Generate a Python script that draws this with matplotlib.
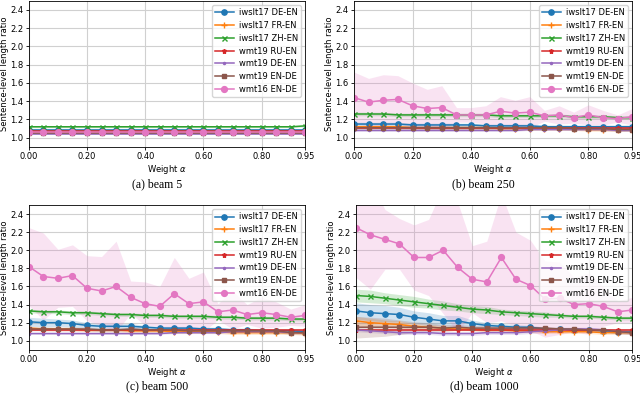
import numpy as np
import matplotlib
matplotlib.use("Agg")
import matplotlib.pyplot as plt

# tezine alpha
alpha = [0.00, 0.05, 0.10, 0.15, 0.20, 0.25, 0.30, 0.35, 0.40, 0.45,
         0.50, 0.55, 0.60, 0.65, 0.70, 0.75, 0.80, 0.85, 0.90, 0.95]
xticks = [0.00, 0.20, 0.40, 0.60, 0.80, 0.95]
yticks = [1.0, 1.2, 1.4, 1.6, 1.8, 2.0, 2.2, 2.4]

names = ["iwslt17 DE-EN", "iwslt17 FR-EN", "iwslt17 ZH-EN", "wmt19 RU-EN",
         "wmt19 DE-EN", "wmt19 EN-DE", "wmt16 EN-DE"]
markers = ["o", "+", "x", "*", ".", "s", "o"]
msizes = [3.8, 4.0, 3.6, 3.6, 3.0, 3.5, 4.2]

captions = ["(a) beam 5", "(b) beam 250", "(c) beam 500", "(d) beam 1000"]

# ---- beam 5 ----
de_en_5 = [1.09, 1.09, 1.09, 1.09, 1.09, 1.09, 1.09, 1.09, 1.09, 1.09, 1.09, 1.09, 1.09, 1.09, 1.09, 1.09, 1.09, 1.09, 1.09, 1.09]
fr_en_5 = [1.06, 1.06, 1.06, 1.06, 1.06, 1.06, 1.06, 1.06, 1.06, 1.06, 1.06, 1.06, 1.06, 1.06, 1.06, 1.06, 1.06, 1.06, 1.06, 1.06]
zh_en_5 = [1.12, 1.12, 1.12, 1.12, 1.12, 1.12, 1.12, 1.12, 1.12, 1.12, 1.12, 1.12, 1.12, 1.12, 1.12, 1.12, 1.12, 1.12, 1.12, 1.13]
ru_en_5 = [1.07, 1.07, 1.07, 1.07, 1.07, 1.07, 1.07, 1.07, 1.07, 1.07, 1.07, 1.07, 1.07, 1.07, 1.07, 1.07, 1.07, 1.07, 1.07, 1.07]
w19_de_en_5 = [1.04, 1.04, 1.04, 1.04, 1.04, 1.04, 1.04, 1.04, 1.04, 1.04, 1.04, 1.04, 1.04, 1.04, 1.04, 1.04, 1.04, 1.04, 1.04, 1.04]
w19_en_de_5 = [1.05, 1.05, 1.05, 1.05, 1.05, 1.05, 1.05, 1.05, 1.05, 1.05, 1.05, 1.05, 1.05, 1.05, 1.05, 1.05, 1.05, 1.05, 1.05, 1.05]
w16_en_de_5 = [1.06, 1.06, 1.06, 1.06, 1.06, 1.06, 1.06, 1.06, 1.06, 1.06, 1.06, 1.06, 1.06, 1.06, 1.06, 1.06, 1.06, 1.06, 1.06, 1.06]
std_5 = [0.01, 0.01, 0.01, 0.01, 0.01, 0.01, 0.01]

# ---- beam 250 ----
de_en_250 = [1.15, 1.15, 1.15, 1.15, 1.14, 1.14, 1.14, 1.14, 1.14, 1.13, 1.13, 1.13, 1.13, 1.12, 1.12, 1.12, 1.12, 1.12, 1.12, 1.12]
fr_en_250 = [1.12, 1.12, 1.12, 1.12, 1.11, 1.11, 1.11, 1.11, 1.11, 1.11, 1.10, 1.10, 1.10, 1.10, 1.10, 1.10, 1.09, 1.09, 1.09, 1.09]
zh_en_250 = [1.26, 1.26, 1.26, 1.25, 1.25, 1.25, 1.25, 1.25, 1.25, 1.25, 1.24, 1.24, 1.24, 1.24, 1.24, 1.23, 1.23, 1.23, 1.22, 1.22]
ru_en_250 = [1.11, 1.11, 1.11, 1.11, 1.11, 1.11, 1.11, 1.11, 1.11, 1.11, 1.11, 1.11, 1.11, 1.11, 1.11, 1.11, 1.11, 1.11, 1.11, 1.11]
w19_de_en_250 = [1.08, 1.08, 1.08, 1.08, 1.08, 1.08, 1.08, 1.08, 1.08, 1.08, 1.08, 1.08, 1.09, 1.09, 1.09, 1.09, 1.09, 1.09, 1.08, 1.08]
w19_en_de_250 = [1.11, 1.11, 1.11, 1.11, 1.11, 1.11, 1.11, 1.11, 1.11, 1.11, 1.11, 1.11, 1.11, 1.11, 1.11, 1.10, 1.10, 1.10, 1.09, 1.09]
w16_en_de_250 = [1.44, 1.39, 1.41, 1.42, 1.35, 1.32, 1.33, 1.25, 1.25, 1.25, 1.29, 1.27, 1.28, 1.24, 1.25, 1.22, 1.25, 1.22, 1.21, 1.23]
w16_std_250 = [0.28, 0.26, 0.28, 0.26, 0.25, 0.21, 0.24, 0.08, 0.08, 0.10, 0.16, 0.14, 0.17, 0.06, 0.10, 0.06, 0.11, 0.08, 0.04, 0.09]
std_250 = [0.02, 0.02, 0.02, 0.01, 0.01, 0.02, w16_std_250]

# ---- beam 500 ----
de_en_500 = [1.21, 1.20, 1.20, 1.19, 1.17, 1.16, 1.16, 1.16, 1.15, 1.14, 1.14, 1.14, 1.13, 1.13, 1.12, 1.12, 1.11, 1.11, 1.11, 1.10]
fr_en_500 = [1.14, 1.13, 1.13, 1.13, 1.12, 1.12, 1.12, 1.11, 1.11, 1.11, 1.10, 1.10, 1.10, 1.10, 1.09, 1.09, 1.09, 1.09, 1.09, 1.08]
zh_en_500 = [1.33, 1.32, 1.32, 1.31, 1.31, 1.30, 1.29, 1.29, 1.28, 1.28, 1.27, 1.27, 1.27, 1.26, 1.26, 1.25, 1.25, 1.25, 1.24, 1.24]
ru_en_500 = [1.12, 1.12, 1.12, 1.12, 1.12, 1.12, 1.12, 1.12, 1.12, 1.12, 1.12, 1.12, 1.12, 1.12, 1.12, 1.12, 1.12, 1.12, 1.12, 1.12]
w19_de_en_500 = [1.08, 1.08, 1.08, 1.08, 1.08, 1.08, 1.08, 1.08, 1.08, 1.08, 1.09, 1.09, 1.09, 1.09, 1.10, 1.10, 1.10, 1.10, 1.09, 1.09]
w19_en_de_500 = [1.13, 1.13, 1.13, 1.13, 1.13, 1.12, 1.12, 1.13, 1.12, 1.12, 1.12, 1.11, 1.11, 1.11, 1.11, 1.11, 1.11, 1.11, 1.09, 1.09]
w16_en_de_500 = [1.82, 1.71, 1.69, 1.72, 1.58, 1.55, 1.60, 1.48, 1.41, 1.38, 1.52, 1.41, 1.43, 1.32, 1.34, 1.29, 1.31, 1.29, 1.26, 1.28]
de_en_std_500 = [0.05, 0.05, 0.04, 0.04, 0.03, 0.03, 0.03, 0.03, 0.02, 0.02, 0.02, 0.02, 0.02, 0.02, 0.02, 0.02, 0.02, 0.02, 0.02, 0.02]
w16_std_500 = [0.43, 0.48, 0.32, 0.34, 0.36, 0.38, 0.50, 0.18, 0.24, 0.22, 0.40, 0.28, 0.33, 0.09, 0.21, 0.11, 0.17, 0.14, 0.09, 0.12]
std_500 = [de_en_std_500, 0.02, 0.02, 0.01, 0.01, 0.02, w16_std_500]

# ---- beam 1000 ----
de_en_1000 = [1.33, 1.31, 1.30, 1.29, 1.26, 1.24, 1.22, 1.22, 1.19, 1.17, 1.16, 1.15, 1.15, 1.13, 1.13, 1.12, 1.12, 1.11, 1.10, 1.10]
fr_en_1000 = [1.22, 1.20, 1.19, 1.18, 1.16, 1.15, 1.14, 1.13, 1.13, 1.12, 1.12, 1.11, 1.11, 1.10, 1.10, 1.10, 1.10, 1.09, 1.09, 1.09]
zh_en_1000 = [1.50, 1.49, 1.47, 1.45, 1.43, 1.41, 1.39, 1.37, 1.35, 1.34, 1.32, 1.31, 1.30, 1.29, 1.28, 1.27, 1.27, 1.26, 1.25, 1.25]
ru_en_1000 = [1.12, 1.12, 1.12, 1.12, 1.12, 1.12, 1.12, 1.12, 1.12, 1.12, 1.12, 1.12, 1.12, 1.12, 1.12, 1.12, 1.12, 1.12, 1.12, 1.12]
w19_de_en_1000 = [1.12, 1.11, 1.10, 1.09, 1.09, 1.09, 1.08, 1.08, 1.08, 1.09, 1.09, 1.09, 1.10, 1.11, 1.12, 1.13, 1.13, 1.12, 1.10, 1.09]
w19_en_de_1000 = [1.15, 1.15, 1.15, 1.15, 1.15, 1.15, 1.14, 1.15, 1.14, 1.14, 1.14, 1.14, 1.14, 1.14, 1.13, 1.13, 1.12, 1.12, 1.10, 1.09]
w16_en_de_1000 = [2.25, 2.17, 2.12, 2.07, 1.92, 1.92, 2.00, 1.81, 1.68, 1.65, 1.92, 1.68, 1.61, 1.46, 1.47, 1.40, 1.41, 1.38, 1.32, 1.34]
de_en_std_1000 = [0.09, 0.09, 0.09, 0.08, 0.07, 0.07, 0.06, 0.06, 0.04, 0.03, 0.03, 0.03, 0.02, 0.02, 0.02, 0.02, 0.02, 0.02, 0.02, 0.02]
fr_en_std_1000 = [0.05, 0.05, 0.04, 0.04, 0.03, 0.03, 0.03, 0.02, 0.02, 0.02, 0.02, 0.02, 0.02, 0.02, 0.02, 0.02, 0.02, 0.02, 0.02, 0.02]
zh_en_std_1000 = [0.07, 0.07, 0.06, 0.06, 0.06, 0.05, 0.05, 0.04, 0.04, 0.04, 0.03, 0.03, 0.03, 0.03, 0.02, 0.02, 0.02, 0.02, 0.02, 0.02]
w19_en_de_std_1000 = [0.12, 0.11, 0.10, 0.08, 0.06, 0.05, 0.04, 0.03, 0.03, 0.03, 0.03, 0.03, 0.02, 0.02, 0.02, 0.02, 0.02, 0.02, 0.02, 0.02]
w16_std_1000 = [0.55, 0.60, 0.33, 0.28, 0.36, 0.42, 0.70, 0.72, 0.37, 0.45, 0.70, 0.52, 0.50, 0.42, 0.40, 0.30, 0.34, 0.22, 0.12, 0.14]
std_1000 = [de_en_std_1000, fr_en_std_1000, zh_en_std_1000, 0.01, 0.02, w19_en_de_std_1000, w16_std_1000]

beams = [
    ([de_en_5, fr_en_5, zh_en_5, ru_en_5, w19_de_en_5, w19_en_de_5, w16_en_de_5], std_5),
    ([de_en_250, fr_en_250, zh_en_250, ru_en_250, w19_de_en_250, w19_en_de_250, w16_en_de_250], std_250),
    ([de_en_500, fr_en_500, zh_en_500, ru_en_500, w19_de_en_500, w19_en_de_500, w16_en_de_500], std_500),
    ([de_en_1000, fr_en_1000, zh_en_1000, ru_en_1000, w19_de_en_1000, w19_en_de_1000, w16_en_de_1000], std_1000),
]

fig = plt.figure(figsize=(6.4, 3.98), dpi=100)
pos = [[0.045, 0.631, 0.432, 0.367],
       [0.553, 0.631, 0.435, 0.367],
       [0.045, 0.121, 0.432, 0.364],
       [0.556, 0.121, 0.432, 0.364]]
cap_xy = [(0.245, 0.523), (0.755, 0.523), (0.245, 0.015), (0.757, 0.015)]
x = np.array(alpha)

for k in range(4):
    ax = fig.add_axes(pos[k])
    means, stds = beams[k]
    for i in range(7):
        m = np.array(means[i])
        s = np.array(stds[i])
        c = "C" + str(i)
        ax.fill_between(x, m - s, m + s, color=c, alpha=0.2, linewidth=0)
        ax.plot(x, m, color=c, marker=markers[i], markersize=msizes[i],
                linewidth=1.1, label=names[i])
    ax.set_xlim(0, 0.95)
    ax.set_ylim(0.9, 2.5)
    ax.set_xticks(xticks)
    ax.set_xticklabels(["%.2f" % t for t in xticks])
    ax.set_yticks(yticks)
    ax.set_yticklabels(["%.1f" % t for t in yticks])
    ax.tick_params(labelsize=6, length=2.5, width=0.6, pad=1.5)
    ax.grid(True, color="#d0d0d0", linewidth=0.8)
    ax.set_axisbelow(True)
    for sp in ax.spines.values():
        sp.set_linewidth(0.6)
    ax.set_xlabel(r"Weight $\alpha$", fontsize=6, labelpad=1)
    ax.set_ylabel("Sentence-level length ratio", fontsize=6, labelpad=0.5)
    ax.legend(loc="upper right", fontsize=6, handlelength=2.2,
              borderpad=0.4, labelspacing=0.45, handletextpad=0.6)
    fig.text(cap_xy[k][0], cap_xy[k][1], captions[k], ha="center",
             va="bottom", fontsize=8.5, family="Liberation Serif")

plt.savefig("out.png", dpi=100)
